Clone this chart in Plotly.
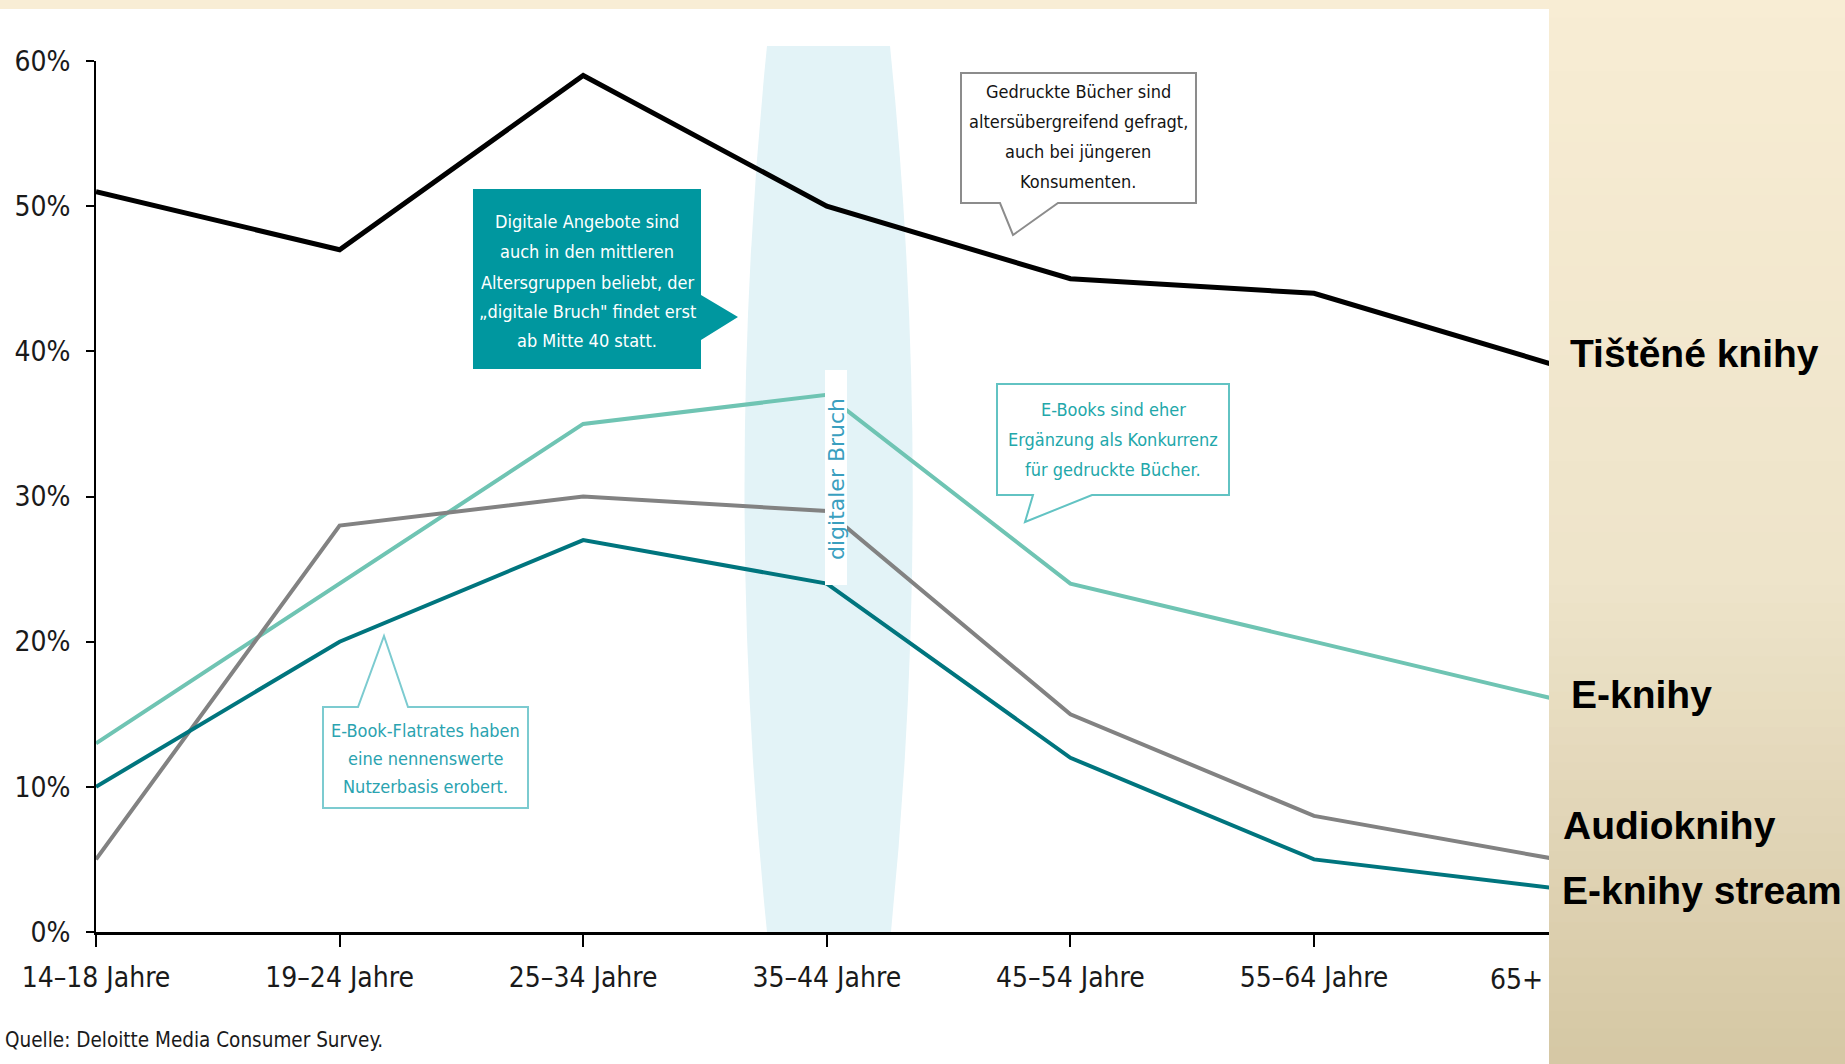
import plotly.graph_objects as go

# ---------------- data ----------------
categories = ["14–18 Jahre", "19–24 Jahre", "25–34 Jahre", "35–44 Jahre",
              "45–54 Jahre", "55–64 Jahre", "65+"]
printed_books = [51, 47, 59, 50, 45, 44, 39]      # Tištěné knihy
ebooks = [13, 24, 35, 37, 24, 20, 16]             # E-knihy
audiobooks = [5, 28, 30, 29, 15, 8, 5]            # Audioknihy
ebook_stream = [10, 20, 27, 24, 12, 5, 3]         # E-knihy stream
y_ticks = [0, 10, 20, 30, 40, 50, 60]

series_names = ["Tištěné knihy", "E-knihy", "Audioknihy", "E-knihy stream"]

note_digital = ["Digitale Angebote sind", "auch in den mittleren",
                "Altersgruppen beliebt, der", "„digitale Bruch\" findet erst",
                "ab Mitte 40 statt."]
note_printed = ["Gedruckte Bücher sind", "altersübergreifend gefragt,",
                "auch bei jüngeren", "Konsumenten."]
note_ebooks = ["E-Books sind eher", "Ergänzung als Konkurrenz",
               "für gedruckte Bücher."]
note_flat = ["E-Book-Flatrates haben", "eine nennenswerte",
             "Nutzerbasis erobert."]
band_label = "digitaler Bruch"
source_text = "Quelle: Deloitte Media Consumer Survey."

# ---------------- layout geometry (pixels) ----------------
W, H = 1845, 1064
L, R, T, B = 96, 296, 61, 132
PW = W - L - R
PH = H - T - B
STEP = 243.6                      # pixel spacing between age groups
X_MAX = PW / STEP                 # last group sits just past the visible edge

def px_x(px):
    return (px - L) / PW

def px_y(py):
    return (T + PH - py) / PH

def poly(points):
    return "M " + " L ".join(f"{px_x(x):.5f},{px_y(y):.5f}" for x, y in points) + " Z"

COND = "DejaVu Sans Condensed, DejaVu Sans, sans-serif"

x_idx = list(range(len(categories)))

fig = go.Figure()
colors = ["#000000", "#6fc4b3", "#828282", "#00757e"]
widths = [5, 4, 4, 4]
for name, vals, col, w in zip(series_names,
                              [printed_books, ebooks, audiobooks, ebook_stream],
                              colors, widths):
    fig.add_trace(go.Scatter(x=x_idx, y=vals, mode="lines", name=name,
                             line=dict(color=col, width=w), hoverinfo="skip"))

shapes = []
# white chart area
shapes.append(dict(type="rect", xref="paper", yref="paper", layer="below",
                   x0=px_x(0), x1=px_x(1549), y0=px_y(H), y1=px_y(9),
                   fillcolor="white", line=dict(width=0)))
# right beige gradient panel
N = 60
top_c = (248, 237, 212)
mid_c = (238, 228, 202)
bot_c = (214, 200, 165)
for i in range(N):
    t = i / (N - 1)
    if t < 0.55:
        u = t / 0.55
        c = tuple(int(top_c[k] + (mid_c[k] - top_c[k]) * u) for k in range(3))
    else:
        u = (t - 0.55) / 0.45
        c = tuple(int(mid_c[k] + (bot_c[k] - mid_c[k]) * u) for k in range(3))
    y0p = H * i / N
    y1p = H * (i + 1) / N + 1
    shapes.append(dict(type="rect", xref="paper", yref="paper", layer="below",
                       x0=px_x(1549), x1=px_x(W + 2), y0=px_y(y1p), y1=px_y(y0p),
                       fillcolor=f"rgb{c}", line=dict(width=0)))
# light blue "digital break" band
bx0t, bx1t, byt = 767, 890, 46
bx0b, bx1b, byb = 767, 891, 932
band_path = (f"M {px_x(bx0t):.5f},{px_y(byt):.5f} L {px_x(bx1t):.5f},{px_y(byt):.5f} "
             f"Q {px_x(935):.5f},{px_y(489):.5f} {px_x(bx1b):.5f},{px_y(byb):.5f} "
             f"L {px_x(bx0b):.5f},{px_y(byb):.5f} "
             f"Q {px_x(722):.5f},{px_y(489):.5f} {px_x(bx0t):.5f},{px_y(byt):.5f} Z")
shapes.append(dict(type="path", xref="paper", yref="paper", layer="below",
                   path=band_path, fillcolor="#e3f3f7", line=dict(width=0)))

# teal callout
shapes.append(dict(type="path", xref="paper", yref="paper", layer="above",
                   path=poly([(473, 189), (701, 189), (701, 295), (738, 317),
                              (701, 340), (701, 369), (473, 369)]),
                   fillcolor="#00979f", line=dict(width=0)))
# "Gedruckte Bücher" bubble
shapes.append(dict(type="path", xref="paper", yref="paper", layer="above",
                   path=poly([(961, 73), (1196, 73), (1196, 203), (1058, 203),
                              (1013, 235), (1000, 203), (961, 203)]),
                   fillcolor="white", line=dict(color="#8c8c8c", width=2)))
# "E-Books" bubble
shapes.append(dict(type="path", xref="paper", yref="paper", layer="above",
                   path=poly([(997, 384), (1229, 384), (1229, 495), (1092, 495),
                              (1025, 522), (1033, 495), (997, 495)]),
                   fillcolor="white", line=dict(color="#62c3c3", width=2)))
# "E-Book-Flatrates" bubble
shapes.append(dict(type="path", xref="paper", yref="paper", layer="above",
                   path=poly([(323, 707), (358, 707), (384, 636), (408, 707),
                              (528, 707), (528, 808), (323, 808)]),
                   fillcolor="white", line=dict(color="#7ccbd0", width=2)))
# white strip for "digitaler Bruch"
shapes.append(dict(type="rect", xref="paper", yref="paper", layer="above",
                   x0=px_x(825), x1=px_x(847), y0=px_y(585), y1=px_y(370),
                   fillcolor="white", line=dict(width=0)))

annotations = []
def note(text, cx, cy, color, size=18, family=COND, xanchor="center", **kw):
    annotations.append(dict(text=text, xref="paper", yref="paper",
                            x=px_x(cx), y=px_y(cy), showarrow=False,
                            xanchor=xanchor, yanchor="middle",
                            font=dict(family=family, size=size, color=color),
                            align="center", **kw))

for line, cy in zip(note_digital, [222, 252, 282, 311, 340]):
    note(line, 587, cy, "white")
for line, cy in zip(note_printed, [92, 122, 152, 182]):
    note(line, 1078, cy, "#141414")
for line, cy in zip(note_ebooks, [409, 439, 469]):
    note(line, 1113, cy, "#22a7aa")
for line, cy in zip(note_flat, [730, 758, 786]):
    note(line, 425, cy, "#2aa3b0")
note(band_label, 836, 479, "#3a9fbf", size=22,
     family="DejaVu Sans, Verdana, sans-serif", textangle=-90)
note(source_text, 3, 1040, "#1a1a1a", size=20.5, xanchor="left")
# last category label (kept inside the chart area as in the original)
note(categories[-1], 1545, 979, "#1a1a1a", size=28, xanchor="right")
# series labels on the right
label_pos = [(1568, 353), (1569, 694), (1561, 825), (1560, 890)]
for name, (lx, ly) in zip(series_names, label_pos):
    annotations.append(dict(text=f"<b>{name}</b>", xref="paper", yref="paper",
                            x=px_x(lx), y=px_y(ly), xanchor="left", yanchor="middle",
                            showarrow=False,
                            font=dict(family="Liberation Sans, Arial, sans-serif",
                                      size=39, color="black")))

fig.update_layout(
    width=W, height=H,
    margin=dict(l=L, r=R, t=T, b=B, pad=0, autoexpand=False),
    paper_bgcolor="#f8edd5",
    plot_bgcolor="rgba(0,0,0,0)",
    showlegend=False,
    shapes=shapes,
    annotations=annotations,
    xaxis=dict(range=[0, X_MAX], tickmode="array",
               tickvals=x_idx[:-1], ticktext=categories[:-1],
               showgrid=False, zeroline=False, showline=True, automargin=False,
               linecolor="black", linewidth=3, ticks="outside", ticklen=12,
               tickwidth=2, tickcolor="black", ticklabelstandoff=6,
               tickfont=dict(family=COND, size=28, color="#1a1a1a"),
               fixedrange=True),
    yaxis=dict(range=[0, 60], tickmode="array", tickvals=y_ticks,
               ticktext=[f"{v}%" for v in y_ticks],
               showgrid=False, zeroline=False, showline=True, automargin=False,
               linecolor="black", linewidth=2, ticks="outside", ticklen=8,
               tickwidth=2, tickcolor="black", ticklabelstandoff=10,
               tickfont=dict(family=COND, size=28, color="#1a1a1a"),
               fixedrange=True),
)

fig.write_html("out.html", config={"displayModeBar": False},
               post_script="document.body.style.margin='0';document.body.style.overflow='hidden';")
